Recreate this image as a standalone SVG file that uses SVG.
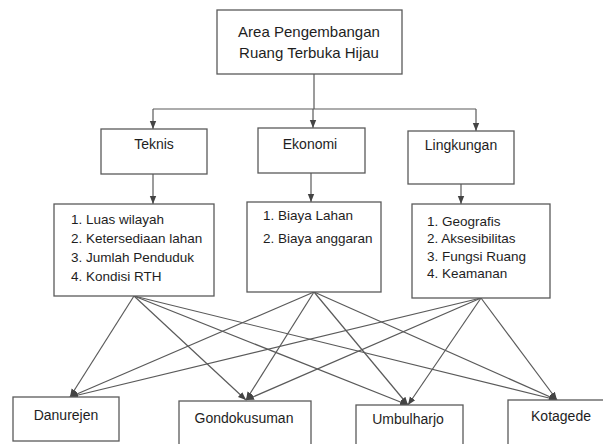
<svg xmlns="http://www.w3.org/2000/svg" width="603" height="444" viewBox="0 0 603 444">
<defs>
<style>
.box{fill:#fff;stroke:#5a5a5a;stroke-width:1.3}
.t{font-family:"Liberation Sans",Arial,sans-serif;fill:#1e1e1e}
.h{font-size:15px;text-anchor:middle}
.m{font-size:14px;text-anchor:middle}
.l{font-size:13.5px}
.c{fill:none;stroke:#5a5a5a;stroke-width:1.2}
</style>
<marker id="ah" markerUnits="userSpaceOnUse" markerWidth="8" markerHeight="8" viewBox="0 0 8 8" refX="8" refY="4" orient="auto">
<path d="M0,0.8 L8,4 L0,7.2 Z" fill="#444"/>
</marker>
</defs>
<rect width="603" height="444" fill="#fff"/>
<g id="connectors">
<path class="c" d="M314,74 V109"/>
<path class="c" d="M153,109 H476"/>
<path class="c" d="M153,109 V129" marker-end="url(#ah)"/>
<path class="c" d="M313,109 V128" marker-end="url(#ah)"/>
<path class="c" d="M476,109 V131" marker-end="url(#ah)"/>
<path class="c" d="M153,174 V204" marker-end="url(#ah)"/>
<path class="c" d="M311,173 V202" marker-end="url(#ah)"/>
<path class="c" d="M461,184 V204" marker-end="url(#ah)"/>
<path class="c" d="M134,296 L70,397" marker-end="url(#ah)"/>
<path class="c" d="M134,296 L246,400" marker-end="url(#ah)"/>
<path class="c" d="M134,296 L408,405" marker-end="url(#ah)"/>
<path class="c" d="M134,296 L557,400" marker-end="url(#ah)"/>
<path class="c" d="M314,292 L70,397" marker-end="url(#ah)"/>
<path class="c" d="M314,292 L246,400" marker-end="url(#ah)"/>
<path class="c" d="M314,292 L408,405" marker-end="url(#ah)"/>
<path class="c" d="M314,292 L557,400" marker-end="url(#ah)"/>
<path class="c" d="M481,298 L70,397" marker-end="url(#ah)"/>
<path class="c" d="M481,298 L246,400" marker-end="url(#ah)"/>
<path class="c" d="M481,298 L408,405" marker-end="url(#ah)"/>
<path class="c" d="M481,298 L557,400" marker-end="url(#ah)"/>
</g>
<g id="root">
<rect class="box" x="217" y="10" width="185" height="64"/>
<text class="t h" x="309" y="37">Area Pengembangan</text>
<text class="t h" x="309" y="58">Ruang Terbuka Hijau</text>
</g>
<g id="teknis">
<rect class="box" x="101" y="129" width="106" height="45"/>
<text class="t m" x="154" y="149">Teknis</text>
</g>
<g id="ekonomi">
<rect class="box" x="258" y="128" width="107" height="45"/>
<text class="t m" x="310" y="149">Ekonomi</text>
</g>
<g id="lingkungan">
<rect class="box" x="408" y="131" width="106" height="53"/>
<text class="t m" x="461" y="150">Lingkungan</text>
</g>
<g id="teknis-list">
<rect class="box" x="54" y="204" width="160" height="92"/>
<text class="t l" x="71" y="224">1. Luas wilayah</text>
<text class="t l" x="71" y="243">2. Ketersediaan lahan</text>
<text class="t l" x="71" y="262">3. Jumlah Penduduk</text>
<text class="t l" x="71" y="281">4. Kondisi RTH</text>
</g>
<g id="ekonomi-list">
<rect class="box" x="247" y="202" width="134" height="90"/>
<text class="t l" x="263" y="220">1. Biaya Lahan</text>
<text class="t l" x="263" y="243">2. Biaya anggaran</text>
</g>
<g id="lingkungan-list">
<rect class="box" x="412" y="204" width="138" height="94"/>
<text class="t l" x="427" y="226">1. Geografis</text>
<text class="t l" x="427" y="243">2. Aksesibilitas</text>
<text class="t l" x="427" y="261">3. Fungsi Ruang</text>
<text class="t l" x="427" y="278">4. Keamanan</text>
</g>
<g id="danurejen">
<rect class="box" x="13" y="397" width="106" height="44"/>
<text class="t m" x="66" y="420">Danurejen</text>
</g>
<g id="gondokusuman">
<rect class="box" x="179" y="401" width="132" height="46"/>
<text class="t m" x="244" y="423">Gondokusuman</text>
</g>
<g id="umbulharjo">
<rect class="box" x="356" y="405" width="107" height="46"/>
<text class="t m" x="408" y="424">Umbulharjo</text>
</g>
<g id="kotagede">
<rect class="box" x="508" y="400" width="100" height="50"/>
<text class="t m" x="561" y="421">Kotagede</text>
</g>
</svg>
